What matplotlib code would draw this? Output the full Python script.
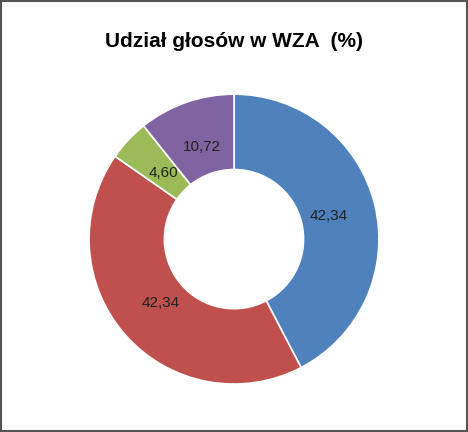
import matplotlib
matplotlib.use('Agg')
import matplotlib.pyplot as plt
from matplotlib.patches import Rectangle

title = 'Udział głosów w WZA  (%)'
shares = [42.34, 42.34, 4.60, 10.72]
colors = ['#4F81BD', '#C0504D', '#9BBB59', '#8064A2']
labels = [f'{v:.2f}'.replace('.', ',') for v in shares]

plt.rcParams['font.family'] = ['Liberation Sans', 'DejaVu Sans']

fig = plt.figure(figsize=(4.68, 4.32), dpi=100, facecolor='white')
fig.patches.append(Rectangle((0.002, 0.002), 0.996, 0.996, transform=fig.transFigure,
                             fill=False, edgecolor='#555555', linewidth=1.5))
ax = fig.add_axes([0.19, 0.111, 0.62, 0.671])
ax.pie(shares, colors=colors, startangle=90, counterclock=False,
       labels=labels, labeldistance=0.67,
       textprops=dict(fontsize=11, color='#222222', ha='center', va='center'),
       wedgeprops=dict(width=0.52, edgecolor='white', linewidth=1.2))
ax.set_xlim(-1, 1)
ax.set_ylim(-1, 1)
ax.set_aspect('equal')

fig.text(0.5, 0.905, title, ha='center', va='center', fontsize=15, fontweight='bold')

fig.savefig('out.png', dpi=100, facecolor='white')
